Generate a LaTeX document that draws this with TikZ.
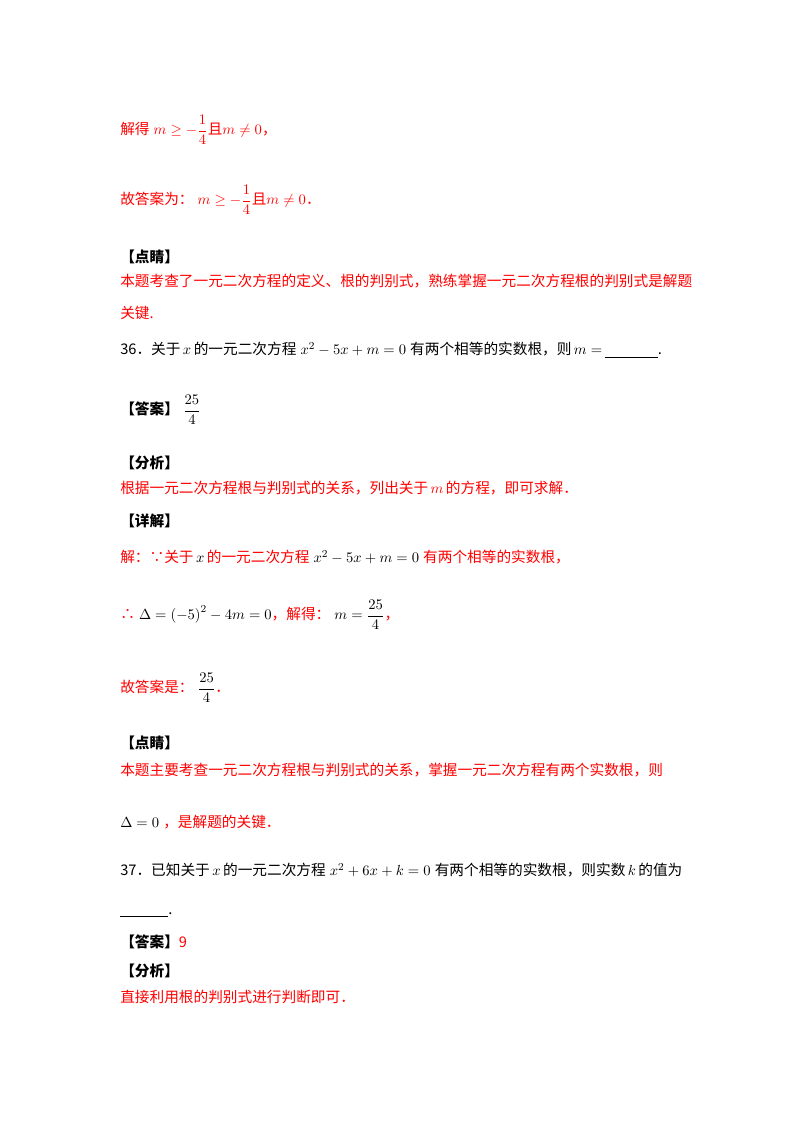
\documentclass[tikz,border=0pt]{standalone}
\usepackage{fontspec}
\usepackage{amsmath,amssymb}
\newfontfamily\cjk{Noto Sans CJK SC}
\definecolor{ansred}{RGB}{255,0,0}
\begin{document}
\begin{tikzpicture}[x=0.75pt,y=-0.75pt,
  ln/.style={anchor=west,inner sep=0pt,font=\cjk\fontsize{11}{13}\selectfont},
  rd/.style={ln,text=ansred},
  bk/.style={ln,text=black}]
\useasboundingbox[fill=white] (0,0) rectangle (800,1132);
\node[rd] (l1) at (120,130) {解得\;$m\ge-\dfrac{1}{4}$且$m\ne0$，};
\node[rd] (l2) at (120,200) {故答案为：\;$m\ge-\dfrac{1}{4}$且$m\ne0$．};
\node[bk] (l3) at (120,257) {\textbf{【点睛】}};
\node[rd] (l4) at (120,281) {本题考查了一元二次方程的定义、根的判别式，熟练掌握一元二次方程根的判别式是解题};
\node[rd] (l5) at (120,313) {关键.};
\node[bk] (l6) at (120,350) {36．关于\,$x$\,的一元二次方程\;$x^2-5x+m=0$\;有两个相等的实数根，则\,$m=$\,\underline{\hspace{40pt}}.};
\node[bk] (l7) at (120,410) {\textbf{【答案】}\;$\dfrac{25}{4}$};
\node[bk] (l8) at (120,463) {\textbf{【分析】}};
\node[rd] (l9) at (120,488) {根据一元二次方程根与判别式的关系，列出关于\,$m$\,的方程，即可求解．};
\node[bk] (l10) at (120,521) {\textbf{【详解】}};
\node[rd] (l11) at (120,557) {解：∵关于\,\textcolor{black}{$x$}\,的一元二次方程\;\textcolor{black}{$x^2-5x+m=0$}\;有两个相等的实数根，};
\node[rd] (l12) at (120,615) {∴\;\textcolor{black}{$\Delta=\left(-5\right)^2-4m=0$}，解得：\;\textcolor{black}{$m=\dfrac{25}{4}$}，};
\node[rd] (l13) at (120,688) {故答案是：\;\textcolor{black}{$\dfrac{25}{4}$}．};
\node[bk] (l14) at (120,743) {\textbf{【点睛】}};
\node[rd] (l15) at (120,770) {本题主要考查一元二次方程根与判别式的关系，掌握一元二次方程有两个实数根，则};
\node[rd] (l16) at (120,822) {\textcolor{black}{$\Delta=0$}\;，是解题的关键．};
\node[bk] (l17) at (120,870) {37．已知关于\,$x$\,的一元二次方程\;$x^2+6x+k=0$\;有两个相等的实数根，则实数\,$k$\,的值为};
\node[bk] (l18) at (120,915) {\underline{\hspace{36pt}}.};
\node[bk] (l19) at (120,942) {\textbf{【答案】}\textcolor{ansred}{9}};
\node[bk] (l20) at (120,971) {\textbf{【分析】}};
\node[rd] (l21) at (120,997) {直接利用根的判别式进行判断即可．};
\end{tikzpicture}
\end{document}
